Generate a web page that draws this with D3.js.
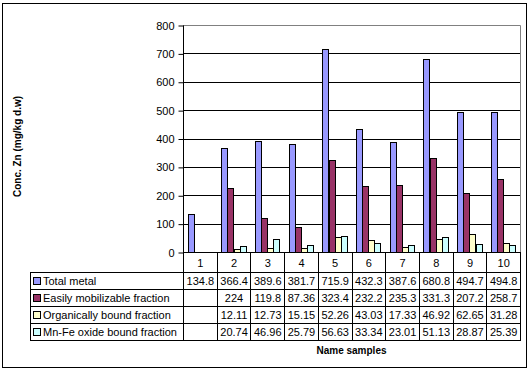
<!DOCTYPE html>
<html>
<head>
<meta charset="utf-8">
<script src="https://cdn.jsdelivr.net/npm/d3@7"></script>
<style>
  body { margin: 0; background: #fff; }
  text { font-family: Arial, 'Liberation Sans', sans-serif; }
</style>
</head>
<body>
<svg id="chart" width="532" height="372"></svg>
<script>
var WIDTH = 532
  , HEIGHT = 372

var samples = ['1', '2', '3', '4', '5', '6', '7', '8', '9', '10']
  , seriesNames = [
      'Total metal'
    , 'Easily mobilizable fraction'
    , 'Organically bound fraction'
    , 'Mn-Fe oxide bound fraction'
  ]
  , seriesColors = ['#9999ff', '#993366', '#ffffcc', '#ccffff']

var totalMetal = [134.8, 366.4, 389.6, 381.7, 715.9, 432.3, 387.6, 680.8, 494.7, 494.8]
  , easilyMobilizable = [null, 224, 119.8, 87.36, 323.4, 232.2, 235.3, 331.3, 207.2, 258.7]
  , organicallyBound = [null, 12.11, 12.73, 15.15, 52.26, 43.03, 17.33, 46.92, 62.65, 31.28]
  , mnFeOxideBound = [null, 20.74, 46.96, 25.79, 56.63, 33.34, 23.01, 51.13, 28.87, 25.39]

var yTicks = [0, 100, 200, 300, 400, 500, 600, 700, 800]

var series = [totalMetal, easilyMobilizable, organicallyBound, mnFeOxideBound]

var plot = {left: 183, right: 520, top: 25, bottom: 252}
  , table = {labelLeft: 30, headerH: 20, rowH: 17}

var svg = d3.select('#chart')

// chart area border
svg.append('rect')
  .attr('x', 2.5)
  .attr('y', 3.5)
  .attr('width', 524)
  .attr('height', 364)
  .attr('fill', '#fff')
  .attr('stroke', '#000')

var x = d3.scaleBand()
  .domain(samples)
  .range([plot.left, plot.right])

var xInner = d3.scaleBand()
  .domain(d3.range(series.length))
  .range([0, x.bandwidth()])
  .paddingInner(0)
  .paddingOuter(0.75)

var y = d3.scaleLinear()
  .domain([0, 800])
  .range([plot.bottom, plot.top])

// gridlines
svg.append('g')
  .selectAll('line')
  .data(yTicks.slice(1, -1))
  .enter()
    .append('line')
    .attr('x1', plot.left)
    .attr('x2', plot.right)
    .attr('y1', function(d) { return Math.round(y(d)) + 0.5 })
    .attr('y2', function(d) { return Math.round(y(d)) + 0.5 })
    .attr('stroke', '#000')

// plot area border (top and right)
svg.append('path')
  .attr('d', 'M' + plot.left + ',' + (plot.top + 0.5) + 'H' + (plot.right + 0.5) + 'V' + plot.bottom)
  .attr('fill', 'none')
  .attr('stroke', '#808080')

// bars
var groups = svg.append('g')
  .selectAll('g')
  .data(series)
  .enter()
    .append('g')
    .attr('fill', function(d, i) { return seriesColors[i] })

groups.each(function(values, si) {
  d3.select(this)
    .selectAll('rect')
    .data(values.map(function(v, i) { return {v: v, cat: samples[i]} }).filter(function(d) { return d.v != null }))
    .enter()
      .append('rect')
      .attr('x', function(d) { return Math.round(x(d.cat) + xInner(si)) + 0.5 })
      .attr('y', function(d) { return Math.round(y(d.v)) + 0.5 })
      .attr('width', Math.round(xInner.bandwidth()))
      .attr('height', function(d) { return Math.round(plot.bottom - y(d.v)) })
      .attr('stroke', '#000')
      .attr('stroke-width', 1)
})

// y axis
var yAxis = d3.axisLeft(y)
  .tickValues(yTicks)
  .tickSize(5)
  .tickPadding(4)

var yAxisG = svg.append('g')
  .attr('transform', 'translate(' + (plot.left + 0.5) + ',0.5)')
  .call(yAxis)

yAxisG.select('.domain').attr('stroke', '#000').attr('d', 'M0,' + plot.top + 'V' + plot.bottom)
yAxisG.selectAll('.tick line').attr('stroke', '#000')
yAxisG.selectAll('.tick text')
  .attr('fill', '#000')
  .attr('font-size', '11px')
  .attr('font-family', 'Arial, Liberation Sans, sans-serif')

svg.append('text')
  .attr('transform', 'translate(21,' + ((plot.top + plot.bottom) / 2 + 8) + ') rotate(-90)')
  .attr('text-anchor', 'middle')
  .attr('font-size', '10px')
  .attr('font-weight', 'bold')
  .text('Conc. Zn (mg/kg d.w)')

// data table
var tableTop = plot.bottom + table.headerH
  , tableBottom = tableTop + table.rowH * series.length
  , tableG = svg.append('g')

// x axis line along zero
tableG.append('line')
  .attr('x1', plot.left)
  .attr('x2', plot.right + 1)
  .attr('y1', plot.bottom + 0.5)
  .attr('y2', plot.bottom + 0.5)
  .attr('stroke', '#000')

// column separators (header + body)
tableG.selectAll('.col-line')
  .data(samples.concat(['end']))
  .enter()
    .append('line')
    .attr('class', 'col-line')
    .attr('x1', function(d) { return Math.round(d === 'end' ? plot.right : x(d)) + 0.5 })
    .attr('x2', function(d) { return Math.round(d === 'end' ? plot.right : x(d)) + 0.5 })
    .attr('y1', plot.bottom)
    .attr('y2', tableBottom)
    .attr('stroke', '#000')

// row lines
tableG.selectAll('.row-line')
  .data(d3.range(series.length + 1))
  .enter()
    .append('line')
    .attr('class', 'row-line')
    .attr('x1', table.labelLeft)
    .attr('x2', plot.right + 1)
    .attr('y1', function(i) { return tableTop + i * table.rowH + 0.5 })
    .attr('y2', function(i) { return tableTop + i * table.rowH + 0.5 })
    .attr('stroke', '#000')

tableG.append('line')
  .attr('x1', table.labelLeft + 0.5)
  .attr('x2', table.labelLeft + 0.5)
  .attr('y1', tableTop)
  .attr('y2', tableBottom + 1)
  .attr('stroke', '#000')

// header labels
tableG.selectAll('.cat-label')
  .data(samples)
  .enter()
    .append('text')
    .attr('class', 'cat-label')
    .attr('x', function(d) { return x(d) + x.bandwidth() / 2 + 0.5 })
    .attr('y', plot.bottom + 15)
    .attr('text-anchor', 'middle')
    .attr('font-size', '11px')
    .text(function(d) { return d })

// legend keys + names
var rows = tableG.selectAll('.series-row')
  .data(series)
  .enter()
    .append('g')
    .attr('class', 'series-row')
    .attr('transform', function(d, i) { return 'translate(0,' + (tableTop + i * table.rowH) + ')' })

rows.append('rect')
  .attr('x', table.labelLeft + 3.5)
  .attr('y', 5.5)
  .attr('width', 7)
  .attr('height', 7)
  .attr('fill', function(d, i) { return seriesColors[i] })
  .attr('stroke', '#000')

rows.append('text')
  .attr('x', table.labelLeft + 13)
  .attr('y', 13)
  .attr('font-size', '11px')
  .text(function(d, i) { return seriesNames[i] })

rows.each(function(values) {
  d3.select(this)
    .selectAll('.cell')
    .data(values.map(function(v, i) { return {v: v, cat: samples[i]} }).filter(function(d) { return d.v != null }))
    .enter()
      .append('text')
      .attr('class', 'cell')
      .attr('x', function(d) { return x(d.cat) + x.bandwidth() / 2 + 0.5 })
      .attr('y', 13)
      .attr('text-anchor', 'middle')
      .attr('font-size', '11px')
      .text(function(d) { return d.v })
})

svg.append('text')
  .attr('x', (plot.left + plot.right) / 2)
  .attr('y', tableBottom + 14)
  .attr('text-anchor', 'middle')
  .attr('font-size', '10px')
  .attr('font-weight', 'bold')
  .text('Name samples')
</script>
</body>
</html>
